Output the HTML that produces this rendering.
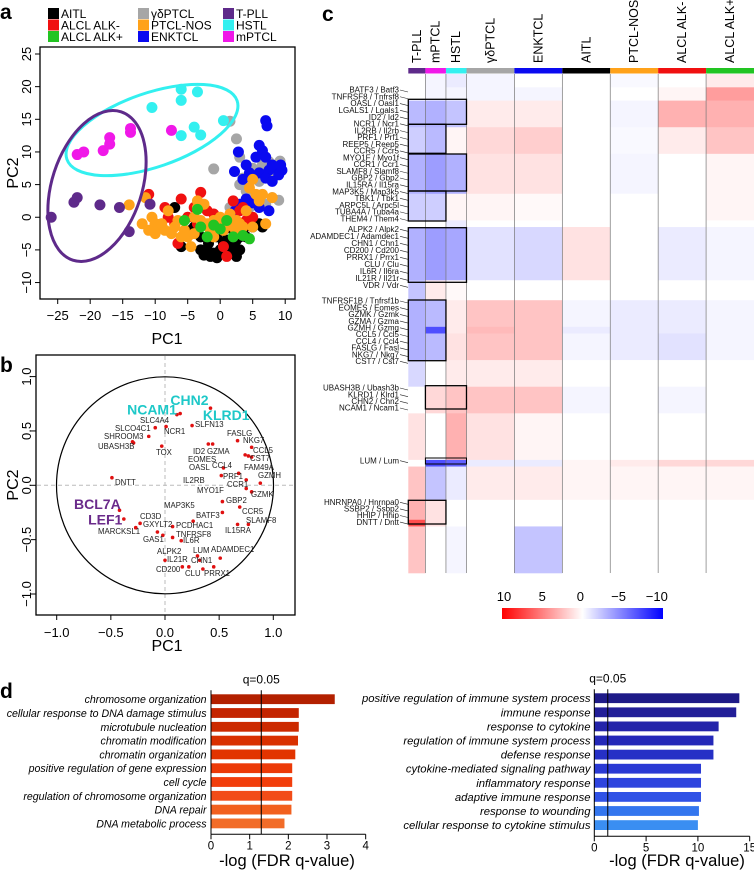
<!DOCTYPE html>
<html><head><meta charset="utf-8"><style>
html,body{margin:0;padding:0;background:#fff;}
svg{display:block;font-family:"Liberation Sans",Arial,sans-serif;}
</style></head><body>
<svg id="fig" width="754" height="870" viewBox="0 0 754 870" xmlns="http://www.w3.org/2000/svg">
<g id="pa"></g>
<g id="pb"></g>
<g id="pc"></g>
<g id="pd"></g>
</svg>
<script>
// ---------- Panel a data ----------
const grpNames = ["γδPTCL","ENKTCL","AITL","ALCL ALK-","PTCL-NOS","ALCL ALK+","HSTL","mPTCL","T-PLL"];
const grpColors = ["#a6a6a6","#0a0af0","#000000","#f01010","#ffa21a","#22c422","#33f0f0","#f018e8","#5e2a8a"];
const ptsGD = [[1.5,14.7],[2.5,12],[3,9.2],[-1,7.4],[3.5,6],[4,4],[5.5,2.5],[6.5,8],[7.5,8.5],[8.5,8],[9.2,8.6],[6,3],[7,2],[8,3],[9,2.6],[3,5],[4.5,1.5],[2.5,1],[7.5,6],[6,5.5],[5,7.5],[8.5,6.5],[1.5,1.5]];
const ptsENK = [[7,14.8],[7.2,14],[6,11],[6.5,10.2],[7,9.2],[5.5,9.2],[2.8,10],[4,8],[4.5,6.8],[6,6.8],[7.5,7.2],[8.5,7.5],[9.5,7.2],[9,6.5],[8,8],[2.2,7],[3.5,5.8],[5,6],[3,2],[2.3,1],[6,1.5],[5,2.2],[7,6],[8,5.5],[9.3,8],[4,2.8],[7.5,1]];
const ptsAITL = [[-6,-4.5],[-4,-1.5],[-3,-3],[-2,-5],[-1.5,-6],[-1,-5.5],[-0.5,-6.2],[0,-5],[0.5,-4],[1,-5.5],[1.5,-5.5],[2,-4.5],[2.5,-3.5],[3,-3],[3.5,-2],[4,-3],[5,-1.5],[6,-1],[6.5,-1.5],[-2.5,-5.8],[-1.8,-4],[-0.5,-3],[0.5,-2],[2,-2],[1,-3.5],[-7,1.5],[-3,-5],[-1,-2],[3,-5],[2.5,-6],[-4.5,-2],[0,-1],[4.5,-1],[-9,-1.5]];
const ptsALKn = [[-11,3.5],[-6,2.8],[-3,3.8],[-6.5,-4],[-5,0],[-3.5,-1],[-1,0.5],[0,-1.2],[0.5,-4.5],[1,-6],[2,2.5],[3,1],[1.5,0],[4,-0.5],[5,0],[-8,0],[-10,-1],[-2,1],[2.5,-2],[-4,1.5],[-1.5,-2.5],[3.5,1.5],[-7,-1],[-8.5,1.5]];
const ptsNOS = [[-14,1.9],[-11.5,3],[-10.5,0],[-10,-1],[-9.5,-1.5],[-10,-2.5],[-9,-1],[-8.5,-2],[-7.5,-2.5],[-7,-1.5],[-6.5,-0.5],[-5.5,-2],[-5,-3],[-4.5,-4.5],[-4,0],[-3.5,1.5],[-3,-0.5],[-2.5,2],[-2,-1],[-1.5,-2],[-1,-0.5],[0,0],[0.5,-0.5],[1,-1],[1.5,0.5],[2,-1.5],[2.5,-0.5],[3,-1],[3.5,-1.5],[4,1],[4.5,4.5],[5,5.8],[5.5,3.5],[6,2.5],[6.5,3.5],[7,-1],[8,3],[-12,-1],[-8,1],[-6,-3],[-3.5,2.5],[0.5,-2],[3,-2.5],[5,-1.5],[-11,-2],[-1,-3],[-4,-2.5]];
const ptsALKp = [[-3.5,1.2],[-3,-1.5],[-1,-1.2],[-2,-3],[1,-0.5],[2,-3],[3.5,-2.8],[4.5,-3.3],[0,-1.8],[-5.5,-0.5]];
const ptsHSTL = [[-10.5,16.8],[-6,19.6],[-6,17.9],[-3.5,19.2],[-6,12.5],[-4,13.8],[-3,12.6],[0.5,14.8]];
const ptsMP = [[-22,9.6],[-21,10],[-18,10.2],[-17,11.2],[-17,12.2],[-13.8,13],[-13.8,13.6],[-7.5,13.3]];
const ptsTPLL = [[-26,0],[-22.5,2.3],[-22,3],[-18.5,1.9],[-15.5,1.5],[-14,-2.2],[-10.8,2]];
const xTicksA = [-25,-20,-15,-10,-5,0,5,10];
const yTicksA = [25,20,15,10,5,0,-5,-10];
const legendNames = ["AITL","ALCL ALK-","ALCL ALK+","γδPTCL","PTCL-NOS","ENKTCL","T-PLL","HSTL","mPTCL"];
const legendColors = ["#000000","#f01010","#22c422","#a6a6a6","#ffa21a","#0a0af0","#5e2a8a","#33f0f0","#f018e8"];

// ---------- Panel b data ----------
const geneX = [0.11,0.14,0.42,0.01,-0.09,-0.15,-0.3,-0.29,-0.03,0.25,0.40,0.44,0.67,0.8,0.74,0.77,0.8,0.54,0.68,0.52,0.88,0.75,0.75,0.8,-0.49,-0.42,-0.38,0.53,0.69,0.53,0.77,0.67,0.26,-0.23,-0.27,0.07,-0.07,-0.02,0.07,0.15,0.3,0.51,0.32,0,0.16,0.22,0.35,0.45,-0.27];
const geneY = [0.65,0.66,0.71,0.54,0.53,0.45,0.40,0.39,0.36,0.55,0.38,0.38,0.41,0.35,0.28,0.27,0.26,0.16,0.11,0.09,0.02,0.05,-0.03,-0.06,0.07,-0.23,-0.31,-0.15,-0.2,-0.25,-0.36,-0.36,-0.33,-0.35,-0.39,-0.38,-0.43,-0.46,-0.48,-0.51,-0.65,-0.67,-0.69,-0.69,-0.75,-0.75,-0.77,-0.75,-0.39];
const smallLabels = [["SLC4A4",140,423],["SLCO4C1",115,431],["SHROOM3",104,439],["UBASH3B",98,449],["NCR1",164,434],["SLFN13",195,427],["TOX",156,455],["ID2",193,454],["GZMA",207,454],["FASLG",227,436],["NKG7",243,443],["CCL5",253,453],["CST7",250,461],["EOMES",188,462],["OASL",189,470],["CCL4",212,468],["FAM49A",244,470],["IL2RB",183,483],["PRF1",223,479],["GZMH",258,478],["CCR1",227,487],["MYO1F",197,493],["GZMK",251,497],["DNTT",115,485],["MAP3K5",164,508],["GBP2",226,503],["BATF3",196,518],["CCR5",242,514],["SLAMF8",246,523],["IL15RA",225,533],["CD3D",140,519],["GXYLT2",143,527],["PCDHAC1",176,528],["MARCKSL1",98,534],["TNFRSF8",176,537],["GAS1",143,542],["IL6R",183,543],["ALPK2",157,554],["LUM",193,553],["ADAMDEC1",211,552],["IL21R",167,562],["CHN1",191,563],["CD200",156,572],["CLU",185,576],["PRRX1",204,576]];
const bigLabels = [["NCAM1",-0.35,0.65,"#1ec8c8"],["CHN2",0.05,0.74,"#1ec8c8"],["KLRD1",0.35,0.60,"#1ec8c8"],["BCL7A",-0.84,-0.22,"#6a2a8a"],["LEF1",-0.71,-0.36,"#6a2a8a"]];
const ticksB = [-1.0,-0.5,0.0,0.5,1.0];

// ---------- Panel c data ----------
const hmGroups = ["T-PLL","mPTCL","HSTL","γδPTCL","ENKTCL","AITL","PTCL-NOS","ALCL ALK-","ALCL ALK+"];
const hmGroupColors = ["#5e2a8a","#f018e8","#33f0f0","#a6a6a6","#0a0af0","#000000","#ffa21a","#f01010","#22c422"];
const hmGroupN = [5,6,6,14,14,14,14,14,14];
const bandRows = [2,2,4,4,6,4,1,8,3,4,1,4,4,4,7,1,5,3,1,7];
const bandVals = [
 [0,-0.5,-1,-0.5,0,0,-0.3,0,1],
 [0,-0.5,-0.5,-0.5,-0.5,0,0,0.5,5],
 [-3.5,-4,-3,1,1,0,-0.5,4,4],
 [-2.5,-3.5,0.5,2,2.5,0,-0.3,1,3],
 [-4,-5,-4,1.5,1.5,0,-0.5,0,0.5],
 [-2.5,-2.5,0.5,0.5,0.3,0,0,0,0.5],
 [0,0,-1,0,0,0,0,0,0],
 [-4,-5,-4.5,-1.5,-2,1.5,0,-1,-0.5],
 [-3,1,0.3,0,0,0,0,0,0],
 [-4,-3.5,1,3,3,-0.5,-1,-1,-0.5],
 [-4,-9,1,3.5,3,-1,-1,-1,-0.5],
 [-4,-3.5,1.5,3,3,-0.5,-1,-1.5,-0.5],
 [-2,0,1,1,1,0,0,0,0],
 [0,2,3,3,3,-0.5,0,-0.5,0],
 [1.5,0,4,1.5,0.5,0,0,0,0],
 [0,-9,-8,-1,-1,0.5,1,2,2],
 [3,-3,-1,1,1,0.5,0.5,0.5,0.5],
 [4,1.5,0,0,0,0,0,0,0],
 [9,1.5,0,0,0,0,0,0,0],
 [3,0,-0.5,0,-3,0,0,0,0]
];
const geneSet1 = ["BATF3 / Batf3","TNFRSF8 / Tnfrsf8","OASL / Oasl1","LGALS1 / Lgals1","ID2 / Id2","NCR1 / Ncr1","IL2RB / Il2rb","PRF1 / Prf1","REEP5 / Reep5","CCR5 / Ccr5","MYO1F / Myo1f","CCR1 / Ccr1","SLAMF8 / Slamf8","GBP2 / Gbp2","IL15RA / Il15ra","MAP3K5 / Map3k5","TBK1 / Tbk1","ARPC5L / Arpc5l","TUBA4A / Tuba4a","THEM4 / Them4"];
const geneSet2 = ["ALPK2 / Alpk2","ADAMDEC1 / Adamdec1","CHN1 / Chn1","CD200 / Cd200","PRRX1 / Prrx1","CLU / Clu","IL6R / Il6ra","IL21R / Il21r","VDR / Vdr"];
const geneSet3 = ["TNFRSF1B / Tnfrsf1b","EOMES / Eomes","GZMK / Gzmk","GZMA / Gzma","GZMH / Gzmg","CCL5 / Ccl5","CCL4 / Ccl4","FASLG / Fasl","NKG7 / Nkg7","CST7 / Cst7"];
const geneSet4 = ["UBASH3B / Ubash3b","KLRD1 / Klrd1","CHN2 / Chn2","NCAM1 / Ncam1"];
const geneSet5 = ["LUM / Lum"];
const geneSet6 = ["HNRNPA0 / Hnrnpa0","SSBP2 / Ssbp2","HHIP / Hhip","DNTT / Dntt"];
const cbTicks = [10,5,0,-5,-10];

// ---------- Panel d data ----------
const goLeft = ["chromosome organization","cellular response to DNA damage stimulus","microtubule nucleation","chromatin modification","chromatin organization","positive regulation of gene expression","cell cycle","regulation of chromosome organization","DNA repair","DNA metabolic process"];
const goLeftVals = [3.2,2.27,2.27,2.25,2.18,2.1,2.1,2.1,2.08,1.9];
const goLeftColors = ["#b32000","#c42400","#cc2a00","#d93000","#e23400","#ec3a08","#f23e0c","#f24c18","#f2601e","#f26c28"];
const goRight = ["positive regulation of immune system process","immune response","response to cytokine","regulation of immune system process","defense response","cytokine-mediated signaling pathway","inflammatory response","adaptive immune response","response to wounding","cellular response to cytokine stimulus"];
const goRightVals = [14,13.7,12,11.5,11.5,10.3,10.3,10.3,10.1,10];
const goRightColors = ["#1e1a88","#221e98","#2424aa","#2428b8","#2630c6","#2a3ad4","#2e44de","#3052e6","#3476ee","#3a8ef2"];
const ticksDL = [0,1,2,3,4];
const ticksDR = [0,5,10,15];
const qLine = 1.3;

const NS = "http://www.w3.org/2000/svg";
function mk(parent, tag, attrs, text){
  const e = document.createElementNS(NS, tag);
  for (const k in attrs) e.setAttribute(k, attrs[k]);
  if (text !== undefined) e.textContent = text;
  parent.appendChild(e);
  return e;
}

// ================= Panel a =================
(function(){
  const g = document.getElementById('pa');
  const sx = v => 57.7 + (v + 25) * 6.5;
  const sy = v => 54 + (25 - v) * 6.53;
  let t = mk(g,'text',{x:0,y:19,'font-size':21,'font-weight':'bold'},'a');
   
  for (let i=0;i<legendNames.length;i++){
    const col = Math.floor(i/3), row = i%3;
    const lx = [48,138,223][col], ly = 8 + row*11.5;
    const r = mk(g,'rect',{x:lx,y:ly,width:11,height:11,fill:legendColors[i]});
     
    const tx = mk(g,'text',{x:lx+13,y:ly+10,'font-size':12},legendNames[i]);
     
  }
  const frame = mk(g,'rect',{x:40,y:47,width:255,height:252,fill:'none',stroke:'#000','stroke-width':1.3});
   
  xTicksA.forEach(v=>{
    mk(g,'line',{x1:sx(v),x2:sx(v),y1:299,y2:304,stroke:'#000'});
    const tx = mk(g,'text',{x:sx(v),y:320,'font-size':13,'text-anchor':'middle'},String(v).replace('-','\u2212'));
     
  });
  yTicksA.forEach(v=>{
    mk(g,'line',{x1:35,x2:40,y1:sy(v),y2:sy(v),stroke:'#000'});
    const tx = mk(g,'text',{x:0,y:0,'font-size':13,'text-anchor':'middle',transform:`translate(31,${sy(v)}) rotate(-90)`},String(v).replace('-','\u2212'));
     
  });
  t = mk(g,'text',{x:167,y:344,'font-size':16,'text-anchor':'middle'},'PC1');
   
  t = mk(g,'text',{x:0,y:0,'font-size':16,'text-anchor':'middle',transform:'translate(18,173) rotate(-90)'},'PC2');
   
  const sets = [ptsGD,ptsENK,ptsAITL,ptsALKn,ptsNOS,ptsALKp,ptsHSTL,ptsMP,ptsTPLL];
  sets.forEach((s,gi)=>{
    s.forEach(p=>{
      const c = mk(g,'circle',{cx:sx(p[0]),cy:sy(p[1]),r:5.5,fill:grpColors[gi]});
       
    });
  });
  const e1 = mk(g,'ellipse',{cx:152,cy:130,rx:90,ry:37,fill:'none',stroke:'#33f0f0','stroke-width':3,transform:'rotate(-19 152 130)'});
   
  const e2 = mk(g,'ellipse',{cx:97,cy:186,rx:45,ry:78,fill:'none',stroke:'#5e2a8a','stroke-width':3,transform:'rotate(18 97 186)'});
   
})();

// ================= Panel b =================
(function(){
  const g = document.getElementById('pb');
  const sx = v => 165 + v * 108.3;
  const sy = v => 485.3 - v * 108.7;
  let t = mk(g,'text',{x:0,y:372,'font-size':21,'font-weight':'bold'},'b');
   
  const fr = mk(g,'rect',{x:36,y:355,width:259,height:260,fill:'none',stroke:'#000','stroke-width':1.3});
   
  mk(g,'line',{x1:sx(0),x2:sx(0),y1:356,y2:614,stroke:'#bbb','stroke-dasharray':'4,3'});
  mk(g,'line',{x1:37,x2:294,y1:sy(0),y2:sy(0),stroke:'#bbb','stroke-dasharray':'4,3'});
  const circ = mk(g,'circle',{cx:sx(0),cy:sy(0),r:108.5,fill:'none',stroke:'#000','stroke-width':1.2});
   
  ticksB.forEach(v=>{
    mk(g,'line',{x1:sx(v),x2:sx(v),y1:615,y2:620,stroke:'#000'});
    const tx = mk(g,'text',{x:sx(v),y:637,'font-size':13,'text-anchor':'middle'},v.toFixed(1).replace('-','\u2212'));
     
    mk(g,'line',{x1:31,x2:36,y1:sy(v),y2:sy(v),stroke:'#000'});
    const ty = mk(g,'text',{x:0,y:0,'font-size':13,'text-anchor':'middle',transform:`translate(31,${sy(v)}) rotate(-90)`},v.toFixed(1).replace('-','\u2212'));
     
  });
  t = mk(g,'text',{x:167,y:651,'font-size':16,'text-anchor':'middle'},'PC1');
   
  t = mk(g,'text',{x:0,y:0,'font-size':16,'text-anchor':'middle',transform:'translate(18,485) rotate(-90)'},'PC2');
   
  for (let i=0;i<geneX.length;i++){
    const c = mk(g,'circle',{cx:sx(geneX[i]),cy:sy(geneY[i]),r:1.8,fill:'#e01010'});
     
  }
  smallLabels.forEach(l=>{
    const tx = mk(g,'text',{x:l[1],y:l[2],'font-size':7.8,fill:'#222'},l[0]);
     
  });
  bigLabels.forEach(l=>{
    const tx = mk(g,'text',{x:sx(l[1]),y:sy(l[2]),'font-size':14,'font-weight':'bold',fill:l[3]},l[0]);
     
  });
})();

// ================= Panel c =================
(function(){
  const g = document.getElementById('pc');
  const X0 = 408.3, X1 = 754, Y0 = 74, Y1 = 573;
  const totalN = hmGroupN.reduce((a,b)=>a+b,0);
  const colW = (X1-X0)/totalN;
  const totalRows = bandRows.reduce((a,b)=>a+b,0);
  const rowH = (Y1-Y0)/totalRows;
  const color = v => { const t=Math.min(Math.abs(v)/13,1); const c=Math.round(255*(1-t));
    return v>=0 ? `rgb(255,${c},${c})` : `rgb(${c},${c},255)`; };
  let t = mk(g,'text',{x:322,y:21,'font-size':21,'font-weight':'bold'},'c');
   
  const gx = [];
  let acc = 0;
  hmGroupN.forEach(n=>{ gx.push(X0+acc*colW); acc+=n; });
  gx.push(X1);
  hmGroups.forEach((name,i)=>{
    const r = mk(g,'rect',{x:gx[i],y:68,width:gx[i+1]-gx[i],height:5.5,fill:hmGroupColors[i]});
     
    const cx = (gx[i]+gx[i+1])/2 + 4;
    const tx = mk(g,'text',{x:0,y:0,'font-size':12.5,transform:`translate(${cx},63) rotate(-90)`},name);
     
  });
  let ry = Y0;
  bandRows.forEach((nr,bi)=>{
    hmGroups.forEach((_,gi)=>{
      const c = mk(g,'rect',{x:gx[gi],y:ry,width:gx[gi+1]-gx[gi]+0.3,height:nr*rowH+0.3,fill:color(bandVals[bi][gi])});
       
    });
    ry += nr*rowH;
  });
  for (let i=1;i<hmGroups.length;i++){
    mk(g,'line',{x1:gx[i],x2:gx[i],y1:Y0,y2:Y1,stroke:'#777','stroke-width':0.7});
  }
  const boxes = [[0,3,99.3,124.3],[0,2,124.3,153.3],[0,3,154,191],[0,2,191,221],[0,3,227.7,282.3],[0,2,300,360.7],[1,3,385.7,409],[0,2,500.3,524]];
  boxes.forEach(b=>{
    const r = mk(g,'rect',{x:gx[b[0]],y:b[2],width:gx[b[1]]-gx[b[0]],height:b[3]-b[2],fill:'none',stroke:'#000','stroke-width':1.3});
     
  });
  mk(g,'rect',{x:gx[1],y:458,width:gx[3]-gx[1],height:6,fill:'none',stroke:'#000','stroke-width':1});
  const sets = [[geneSet1,90,6.77],[geneSet2,229.3,7],[geneSet3,301,6.7],[geneSet4,388,6.67],[geneSet5,460.7,0],[geneSet6,502.3,6.6]];
  sets.forEach(s=>{
    s[0].forEach((name,i)=>{
      const y = s[1]+i*s[2];
      const tx = mk(g,'text',{x:399,y:y+2.7,'font-size':8,'text-anchor':'end',fill:'#111'},name);
       
      mk(g,'line',{x1:400,y1:y,x2:408,y2:y+2,stroke:'#222','stroke-width':0.6});
    });
  });
  const grad = mk(g,'linearGradient',{id:'cbg',x1:0,x2:1,y1:0,y2:0});
  [[0,'#ff0000'],[0.5,'#ffffff'],[1,'#0000ff']].forEach(s=>mk(grad,'stop',{offset:s[0],'stop-color':s[1]}));
  const cb = mk(g,'rect',{x:502,y:608,width:161,height:11,fill:'url(#cbg)'});
   
  cbTicks.forEach(v=>{
    const x = 504 + (10 - v) * 7.64;
    const tx = mk(g,'text',{x:x,y:601,'font-size':13,'text-anchor':'middle'},String(v).replace('-','\u2212'));
     
  });
})();

// ================= Panel d =================
function barChart(g, labels, vals, cols, ticks, axisX, unit, top, step, labelX, titleX, nameSuffix, fs){
  const sx = v => axisX + v * unit;
  const bh = 9.8;
  labels.forEach((lab,i)=>{
    const yc = top + i*step + bh/2;
    const r = mk(g,'rect',{x:axisX,y:top+i*step,width:sx(vals[i])-axisX,height:bh,fill:cols[i]});
     
    const tx = mk(g,'text',{x:labelX,y:yc+4,'font-size':fs,'font-style':'italic','text-anchor':'end'},lab);
     
  });
  const bottom = top + labels.length*step + 2;
  mk(g,'line',{x1:axisX,x2:axisX,y1:top-4,y2:bottom,stroke:'#000','stroke-width':1});
  mk(g,'line',{x1:axisX,x2:sx(ticks[ticks.length-1]),y1:bottom,y2:bottom,stroke:'#000','stroke-width':1});
  ticks.forEach(v=>{
    mk(g,'line',{x1:sx(v),x2:sx(v),y1:bottom,y2:bottom+5,stroke:'#000'});
    const tx = mk(g,'text',{x:sx(v),y:bottom+15,'font-size':11.5,'text-anchor':'middle'},String(v));
     
  });
  const ql = mk(g,'line',{x1:sx(qLine),x2:sx(qLine),y1:top-4,y2:bottom,stroke:'#000','stroke-width':1});
   
  const qt = mk(g,'text',{x:sx(qLine),y:top-11,'font-size':12,'text-anchor':'middle'},'q=0.05');
   
  const tt = mk(g,'text',{x:titleX,y:866,'font-size':16.5,'text-anchor':'middle'},'-log (FDR q-value)');
   
}
(function(){
  const g = document.getElementById('pd');
  const t = mk(g,'text',{x:0,y:698,'font-size':21,'font-weight':'bold'},'d');
   
  const gl = mk(g,'g',{});
   
  barChart(gl, goLeft, goLeftVals, goLeftColors, ticksDL, 211, 38.67, 694.3, 13.8, 206.5, 287, 'left', 10.6);
  const gr = mk(g,'g',{});
   
  barChart(gr, goRight, goRightVals, goRightColors, ticksDR, 594.3, 10.36, 693.3, 14.1, 590.5, 677, 'right', 11.3);
})();
</script>
</body></html>
